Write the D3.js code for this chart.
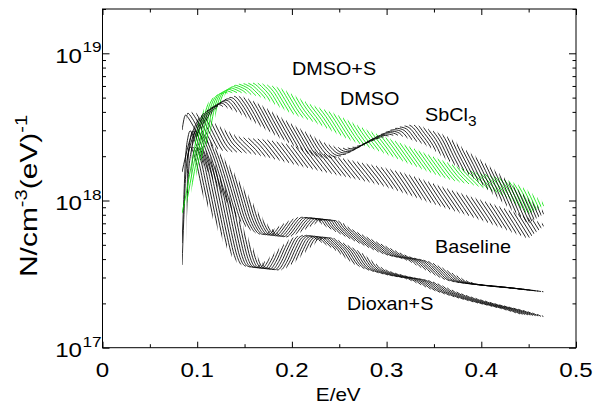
<!DOCTYPE html>
<html><head><meta charset="utf-8">
<script src="https://cdn.jsdelivr.net/npm/d3@7"></script>
<style>body{margin:0;background:#fff}svg{display:block}text{font-family:"Liberation Sans",Arial,Helvetica,sans-serif;fill:#000}</style>
</head><body><svg id="c" width="600" height="407"></svg>
<script>
// ---- data (E in eV, N in cm^-3 eV^-1) ----
const xTicks = [0, 0.1, 0.2, 0.3, 0.4, 0.5];
const xTickLabels = ["0", "0.1", "0.2", "0.3", "0.4", "0.5"];
const yTicks = [1e17, 1e18, 1e19];
const yTickExps = ["17", "18", "19"];

const dmsoSX = [0.084,0.092,0.100,0.110,0.117,0.124,0.133,0.145,0.161,0.175,0.187,0.201,0.216,0.243,0.279,0.314,0.349,0.385,0.420,0.441,0.468];
const dmsoSY = [8.2e17,1.12e18,1.61e18,2.46e18,3.52e18,4.6e18,5.63e18,6.19e18,6.28e18,6.09e18,5.81e18,5.21e18,4.6e18,3.93e18,3.01e18,2.46e18,1.98e18,1.61e18,1.42e18,1.25e18,9.3e17];

const sbclX = [0.084,0.098,0.114,0.129,0.142,0.156,0.172,0.187,0.216,0.240,0.256,0.272,0.293,0.314,0.328,0.346,0.364,0.383,0.399,0.420,0.441,0.468];
const sbclY = [1.56e18,2.58e18,3.81e18,4.82e18,5.13e18,4.82e18,4.25e18,3.69e18,2.87e18,2.38e18,2.27e18,2.38e18,2.79e18,3.16e18,3.26e18,3.01e18,2.70e18,2.20e18,1.88e18,1.49e18,1.14e18,8.2e17];

const dmsoX = [0.084,0.092,0.103,0.124,0.145,0.174,0.203,0.230,0.261,0.314,0.367,0.420,0.468];
const dmsoY = [3.01e18,3.99e18,3.81e18,3.16e18,2.70e18,2.58e18,2.34e18,2.10e18,1.88e18,1.56e18,1.18e18,9.03e17,6.82e17];

const baseX = [0.084,0.088,0.092,0.098,0.103,0.116,0.129,0.143,0.156,0.168,0.181,0.195,0.209,0.222,0.236,0.249,0.261,0.279,0.303,0.325,0.346,0.367,0.388,0.420,0.441,0.468];
const baseY = [5.14e17,1.01e18,1.88e18,2.66e18,2.92e18,2.38e18,1.88e18,1.38e18,1.01e18,7.60e17,6.21e17,5.65e17,6.11e17,6.82e17,7.37e17,7.26e17,6.50e17,5.65e17,4.76e17,4.13e17,3.82e17,3.27e17,2.79e17,2.58e17,2.51e17,2.39e17];

const dioxX = [0.084,0.088,0.092,0.098,0.103,0.116,0.129,0.142,0.154,0.164,0.175,0.187,0.201,0.216,0.230,0.242,0.256,0.272,0.293,0.325,0.346,0.377,0.420,0.446,0.468];
const dioxY = [3.65e17,7.37e17,1.38e18,2.04e18,2.27e18,1.83e18,1.22e18,7.97e17,5.39e17,4.07e17,3.48e17,3.37e17,3.76e17,4.61e17,5.39e17,5.56e17,5.07e17,4.47e17,3.55e17,3.02e17,2.84e17,2.35e17,1.95e17,1.78e17,1.62e17];

const labels = ["DMSO+S", "DMSO", "SbCl", "Baseline", "Dioxan+S"];

// ---- layout ----
const W = 600, H = 407;
const PL = 102.5, PR = 576, PT = 9.0, PB = 347.7;
const svg = d3.select("#c");
const x = d3.scaleLinear().domain([0, 0.5]).range([PL, PR]);
const y = d3.scaleLog().domain([1e17, 2e19]).range([PB, PT]);

// hatch-stroke style per series: comp = horizontal compression of each stroke,
// win = window of the curve (eV) each stroke shows, tilt = extra slant
const series = [
  {xs: dioxX, ys: dioxY, color: "#000", comp: 0.45, win: 0.05, tilt: -0.06},
  {xs: baseX, ys: baseY, color: "#000", comp: 0.45, win: 0.05, tilt: -0.06},
  {xs: dmsoX, ys: dmsoY, color: "#000", comp: 0.5, win: 0.036, tilt: 0.4},
  {xs: dmsoSX, ys: dmsoSY, color: "#00e600", comp: 0.5, win: 0.036, tilt: 0.28},
  {xs: sbclX, ys: sbclY, color: "#000", comp: 0.5, win: 0.036, tilt: 0.3}
];

const line = d3.line().x(d => x(d[0])).y(d => y(d[1])).curve(d3.curveMonotoneX);
const defs = svg.append("defs");
const step = 0.005;
let cid = 0;
series.forEach(s => {
  const pts = s.xs.map((v, i) => [v, s.ys[i]]);
  const d = line(pts);
  const g = svg.append("g");
  const x0 = s.xs[0], x1 = s.xs[s.xs.length - 1];
  for (let t = x0; t < x1 - 0.001; t += step) {
    const ps = x(t), pe = x(Math.min(t + s.win, x1));
    const id = "k" + (cid++);
    defs.append("clipPath").attr("id", id).attr("clipPathUnits", "userSpaceOnUse")
      .append("rect").attr("x", ps).attr("y", -200).attr("width", pe - ps).attr("height", H + 400);
    g.append("path").attr("d", d)
      .attr("transform", `matrix(${s.comp},${s.tilt},0,1,${ps * (1 - s.comp)},${-s.tilt * ps})`)
      .attr("clip-path", `url(#${id})`)
      .attr("fill", "none").attr("stroke", s.color).attr("stroke-width", 0.85)
      .attr("vector-effect", "non-scaling-stroke");
  }
});

// ---- frame & ticks ----
svg.append("rect").attr("x", PL).attr("y", PT).attr("width", PR - PL).attr("height", PB - PT)
  .attr("fill", "none").attr("stroke", "#000").attr("stroke-width", 1);

const xMinor = [0.05, 0.15, 0.25, 0.35, 0.45];
const yMinor = [];
[1e17, 1e18].forEach(b => { for (let k = 2; k <= 9; k++) yMinor.push(b * k); });
yMinor.push(2e19);

function axisG(axis, tx, ty) {
  const g = svg.append("g").attr("transform", `translate(${tx},${ty})`).call(axis);
  g.select(".domain").remove();
  g.selectAll("text").remove();
  g.selectAll("line").attr("stroke", "#000").attr("stroke-width", 1);
  return g;
}
axisG(d3.axisBottom(x).tickValues(xTicks).tickSize(-6).tickFormat(""), 0, PB);
axisG(d3.axisBottom(x).tickValues(xMinor).tickSize(-3.5).tickFormat(""), 0, PB);
axisG(d3.axisTop(x).tickValues(xTicks).tickSize(-6).tickFormat(""), 0, PT);
axisG(d3.axisTop(x).tickValues(xMinor).tickSize(-3.5).tickFormat(""), 0, PT);
axisG(d3.axisLeft(y).tickValues(yTicks).tickSize(-7).tickFormat(""), PL, 0);
axisG(d3.axisLeft(y).tickValues(yMinor).tickSize(-3.5).tickFormat(""), PL, 0);
axisG(d3.axisRight(y).tickValues(yTicks).tickSize(-7).tickFormat(""), PR, 0);
axisG(d3.axisRight(y).tickValues(yMinor).tickSize(-3.5).tickFormat(""), PR, 0);

// ---- tick labels ----
xTicks.forEach((v, i) => {
  svg.append("text").attr("transform", `translate(${x(v)},377) scale(1.15,1)`)
    .attr("text-anchor", "middle").attr("font-size", 21).text(xTickLabels[i]);
});
yTicks.forEach((v, i) => {
  const yy = y(v);
  svg.append("text").attr("transform", `translate(82,${yy + 9.5}) scale(1.15,1)`)
    .attr("text-anchor", "end").attr("font-size", 21).text("10");
  svg.append("text").attr("transform", `translate(82.5,${yy - 1}) scale(1.15,1)`)
    .attr("font-size", 15).text(yTickExps[i]);
});

// ---- axis titles ----
svg.append("text").attr("transform", `translate(${x(0.25) - 1},401) scale(1.15,1)`)
  .attr("text-anchor", "middle").attr("font-size", 18).text("E/eV");

const yl = svg.append("text").attr("transform", "translate(37,196) rotate(-90) scale(1.25,1)")
  .attr("text-anchor", "middle").attr("font-size", 24);
yl.append("tspan").text("N/cm");
yl.append("tspan").attr("dy", -10).attr("font-size", 16).text("-3");
yl.append("tspan").attr("dy", 10).text("(eV)");
yl.append("tspan").attr("dy", -10).attr("font-size", 16).text("-1");

// ---- annotations ----
function ann(txt, lx, ly) {
  return svg.append("text").attr("transform", `translate(${lx},${ly}) scale(1.1,1)`)
    .attr("font-size", 18).text(txt);
}
ann(labels[0], 292, 75);
ann(labels[1], 340, 105);
const sb = ann(labels[2], 425, 121);
sb.append("tspan").attr("dy", 5).attr("font-size", 14).text("3");
ann(labels[3], 435, 253);
ann(labels[4], 347, 310);
</script></body></html>
